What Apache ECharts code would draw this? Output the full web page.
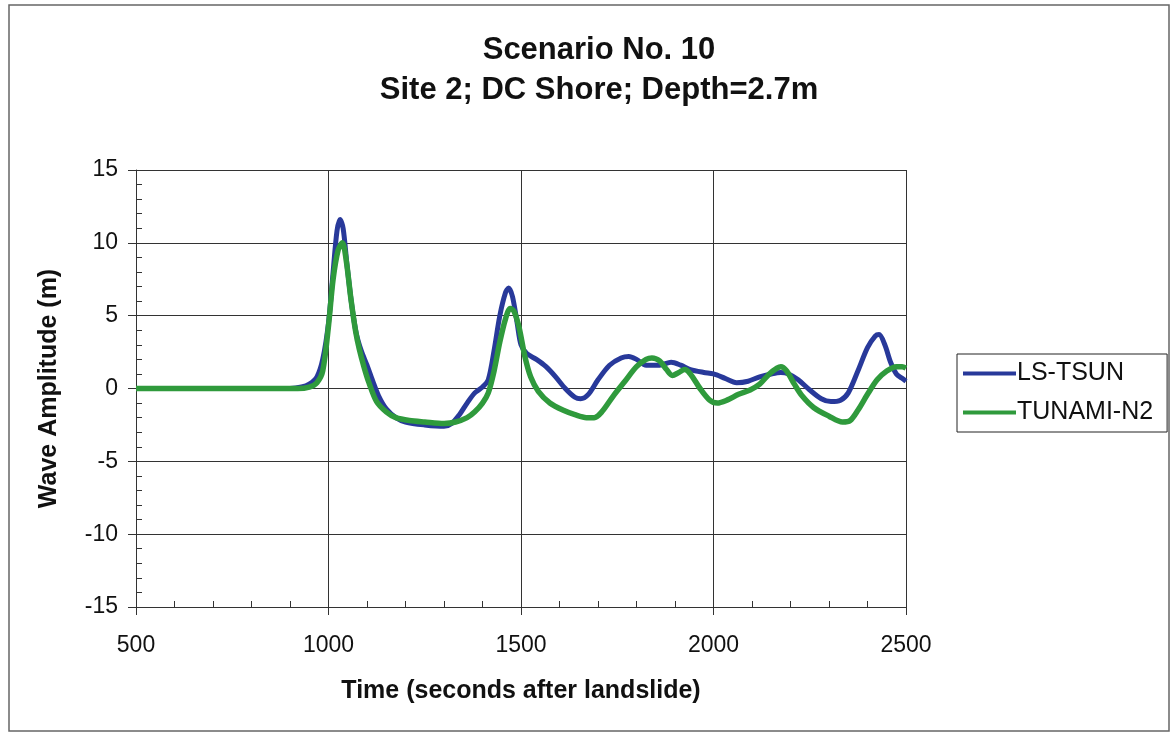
<!DOCTYPE html>
<html>
<head>
<meta charset="utf-8">
<script src="https://cdn.jsdelivr.net/npm/echarts@6/dist/echarts.min.js"></script>
<style>
html,body{margin:0;padding:0;background:#fff;}
#chart{width:1174px;height:735px;}
</style>
</head>
<body>
<div id="chart"></div>
<script>
const titleLines = ['Scenario No. 10', 'Site 2; DC Shore; Depth=2.7m'];
const xAxisTitle = 'Time (seconds after landslide)';
const yAxisTitle = 'Wave Amplitude (m)';
const seriesNames = ['LS-TSUN', 'TUNAMI-N2'];

const lsTsunTime = [500,900,930,950,970,985,1000,1012,1022,1030,1038,1048,1060,1072,1085,1100,1115,1130,1150,1175,1200,1250,1300,1320,1340,1360,1380,1400,1415,1430,1445,1460,1468,1478,1490,1500,1515,1540,1565,1590,1615,1640,1655,1675,1700,1730,1760,1780,1800,1825,1860,1890,1915,1940,1975,2000,2030,2060,2090,2120,2150,2175,2195,2220,2250,2280,2305,2330,2350,2375,2400,2420,2430,2445,2460,2475,2490,2500];
const lsTsunAmp = [0,0,0.1,0.3,0.8,2.0,4.5,8.0,10.8,11.6,11.0,8.5,5.8,3.8,2.6,1.6,0.5,-0.5,-1.4,-2.0,-2.3,-2.5,-2.6,-2.4,-1.8,-1.0,-0.3,0.1,0.6,2.6,5.0,6.6,6.9,6.3,4.5,3.0,2.4,2.0,1.5,0.8,0.0,-0.6,-0.7,-0.4,0.6,1.6,2.1,2.2,2.0,1.6,1.6,1.8,1.6,1.3,1.1,1.0,0.7,0.4,0.5,0.8,1.0,1.1,1.0,0.6,-0.1,-0.7,-0.9,-0.8,-0.3,1.2,2.8,3.6,3.7,3.0,1.8,1.0,0.7,0.5];

const tunamiTime = [500,920,950,970,985,1000,1012,1025,1036,1046,1058,1070,1080,1092,1105,1125,1150,1175,1210,1250,1300,1330,1360,1380,1400,1415,1430,1445,1460,1472,1482,1495,1510,1525,1545,1575,1610,1640,1670,1690,1710,1740,1770,1800,1825,1840,1860,1878,1893,1910,1925,1940,1965,1990,2010,2035,2065,2095,2120,2145,2165,2175,2190,2210,2230,2260,2300,2335,2355,2375,2400,2425,2450,2475,2490,2500];
const tunamiAmp = [0,0,0.1,0.4,1.2,4.3,7.5,9.5,10.0,8.8,6.2,4.0,2.7,1.5,0.4,-0.9,-1.6,-2.0,-2.2,-2.3,-2.4,-2.3,-2.0,-1.6,-1.0,-0.3,1.2,3.2,4.8,5.5,5.3,4.2,2.2,0.8,-0.2,-1.0,-1.5,-1.8,-2.0,-2.0,-1.6,-0.5,0.5,1.5,2.0,2.1,1.9,1.3,0.9,1.1,1.3,1.0,0.0,-0.8,-1.0,-0.8,-0.4,-0.1,0.3,1.0,1.4,1.5,1.2,0.3,-0.5,-1.3,-1.9,-2.3,-2.2,-1.5,-0.4,0.6,1.2,1.5,1.5,1.4];

const xMin = 500, xMax = 2500, xStep = 500;
const yMin = -15, yMax = 15, yStep = 5;

const FONT = '"Liberation Sans", Arial, sans-serif';
const blue = '#28399a';
const green = '#2f9a3c';

function pairs(t, v) { return t.map((x, i) => [x, v[i]]); }

const chart = echarts.init(document.getElementById('chart'), null, {renderer: 'canvas'});
chart.setOption({
  backgroundColor: '#fff',
  animation: false,
  title: {
    text: titleLines.join('\n'),
    left: 594, top: 25, textAlign: 'center',
    textStyle: {fontFamily: FONT, fontSize: 31, fontWeight: 'bold', color: '#111', lineHeight: 40}
  },
  legend: {
    orient: 'vertical', left: 957, top: 354,
    padding: [7, 14, 7, 6], itemGap: 14,
    borderColor: '#222', borderWidth: 1,
    icon: 'rect', itemWidth: 53, itemHeight: 4,
    textStyle: {fontFamily: FONT, fontSize: 25, color: '#111', padding: [0,0,0,-4]},
    data: seriesNames
  },
  grid: {left: 136, right: 268, top: 170, bottom: 128, containLabel: false},
  xAxis: [{
    type: 'value', min: xMin, max: xMax, interval: xStep,
    name: xAxisTitle, nameLocation: 'middle', nameGap: 72,
    nameTextStyle: {fontFamily: FONT, fontSize: 25, fontWeight: 'bold', color: '#111'},
    axisLine: {show: true, onZero: false, lineStyle: {color: '#333', width: 1}},
    axisTick: {show: true, inside: false, length: 8, lineStyle: {color: '#333'}},
    axisLabel: {fontFamily: FONT, fontSize: 23, color: '#111', margin: 27, formatter: v => String(v)},
    splitLine: {show: true, lineStyle: {color: '#333', width: 1}}
  }, {
    type: 'value', min: xMin, max: xMax, interval: xStep, position: 'bottom',
    axisLine: {show: false, onZero: false}, axisLabel: {show: false},
    axisTick: {show: false, inside: true},
    minorTick: {show: true, splitNumber: 5, length: 6, lineStyle: {color: '#333'}},
    splitLine: {show: false}
  }],
  yAxis: [{
    type: 'value', min: yMin, max: yMax, interval: yStep,
    name: yAxisTitle, nameLocation: 'middle', nameGap: 74,
    nameTextStyle: {fontFamily: FONT, fontSize: 25, fontWeight: 'bold', color: '#111'},
    axisLine: {show: true, onZero: false, lineStyle: {color: '#333', width: 1}},
    axisTick: {show: true, inside: false, length: 8, lineStyle: {color: '#333'}},
    axisLabel: {fontFamily: FONT, fontSize: 23, color: '#111', margin: 18},
    splitLine: {show: true, lineStyle: {color: '#333', width: 1}}
  }, {
    type: 'value', min: yMin, max: yMax, interval: yStep, position: 'left',
    axisLine: {show: false, onZero: false}, axisLabel: {show: false},
    axisTick: {show: false, inside: true},
    minorTick: {show: true, splitNumber: 5, length: 6, lineStyle: {color: '#333'}},
    splitLine: {show: false}
  }],
  graphic: [{
    type: 'rect', shape: {x: 9, y: 5, width: 1160, height: 726},
    style: {fill: 'none', stroke: '#666', lineWidth: 1.5}, silent: true
  }],
  series: [{
    name: seriesNames[0], type: 'line', data: pairs(lsTsunTime, lsTsunAmp),
    smooth: 0.3, showSymbol: false, symbol: 'none',
    lineStyle: {color: blue, width: 5}, itemStyle: {color: blue}, z: 2
  }, {
    name: seriesNames[1], type: 'line', data: pairs(tunamiTime, tunamiAmp),
    smooth: 0.3, showSymbol: false, symbol: 'none',
    lineStyle: {color: green, width: 5.5}, itemStyle: {color: green}, z: 3
  }]
});
</script>
</body>
</html>
